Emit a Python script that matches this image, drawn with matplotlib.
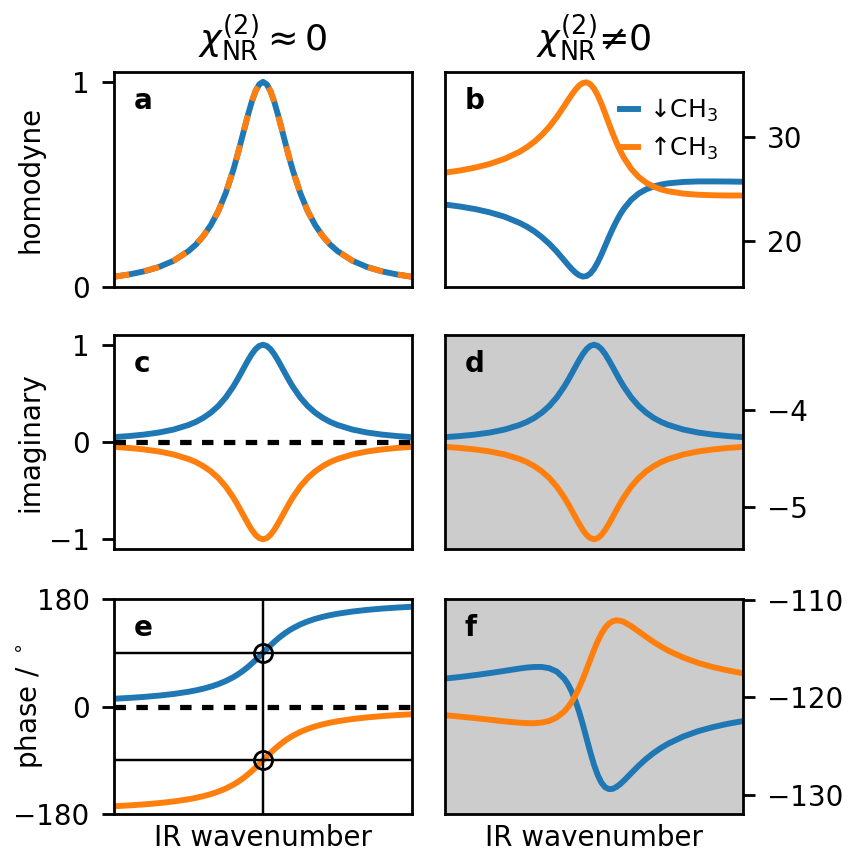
import matplotlib
matplotlib.use('Agg')
import matplotlib.pyplot as plt

# ---------------- data ----------------
wavenumber = [-1.0, -0.9, -0.8, -0.7, -0.6, -0.5, -0.45, -0.4, -0.35, -0.3, -0.25, -0.2,
              -0.175, -0.15, -0.125, -0.1, -0.075, -0.05, -0.025, 0.0,
              0.025, 0.05, 0.075, 0.1, 0.125, 0.15, 0.175,
              0.2, 0.25, 0.3, 0.35, 0.4, 0.45, 0.5, 0.6, 0.7, 0.8, 0.9, 1.0]

# (a) homodyne, chi_NR ~ 0 (both orientations identical)
homo0_down = [0.050, 0.061, 0.076, 0.097, 0.128, 0.175, 0.207, 0.249, 0.302, 0.370, 0.458, 0.569,
              0.633, 0.702, 0.772, 0.841, 0.904, 0.955, 0.988, 1.000,
              0.988, 0.955, 0.904, 0.841, 0.772, 0.702, 0.633,
              0.569, 0.458, 0.370, 0.302, 0.249, 0.207, 0.175, 0.128, 0.097, 0.076, 0.061, 0.050]
homo0_up = [0.050, 0.061, 0.076, 0.097, 0.128, 0.175, 0.207, 0.249, 0.302, 0.370, 0.458, 0.569,
            0.633, 0.702, 0.772, 0.841, 0.904, 0.955, 0.988, 1.000,
            0.988, 0.955, 0.904, 0.841, 0.772, 0.702, 0.633,
            0.569, 0.458, 0.370, 0.302, 0.249, 0.207, 0.175, 0.128, 0.097, 0.076, 0.061, 0.050]

# (b) homodyne, chi_NR != 0
homo1_down = [23.52, 23.33, 23.09, 22.77, 22.35, 21.76, 21.39, 20.94, 20.39, 19.75, 19.00, 18.16,
              17.74, 17.34, 16.99, 16.73, 16.60, 16.65, 16.89, 17.34,
              17.97, 18.72, 19.55, 20.39, 21.18, 21.91, 22.56,
              23.11, 23.98, 24.58, 24.98, 25.26, 25.44, 25.56, 25.69, 25.74, 25.74, 25.73, 25.71]
homo1_up = [26.58, 26.79, 27.06, 27.42, 27.91, 28.58, 29.03, 29.56, 30.21, 30.99, 31.92, 32.98,
            33.53, 34.06, 34.55, 34.95, 35.20, 35.26, 35.08, 34.66,
            34.01, 33.19, 32.26, 31.29, 30.36, 29.49, 28.71,
            28.02, 26.94, 26.16, 25.62, 25.24, 24.97, 24.79, 24.57, 24.46, 24.41, 24.39, 24.39]

# (c) imaginary, chi_NR ~ 0
imag0_down = [0.050, 0.061, 0.076, 0.097, 0.128, 0.175, 0.207, 0.249, 0.302, 0.370, 0.458, 0.569,
              0.633, 0.702, 0.772, 0.841, 0.904, 0.955, 0.988, 1.000,
              0.988, 0.955, 0.904, 0.841, 0.772, 0.702, 0.633,
              0.569, 0.458, 0.370, 0.302, 0.249, 0.207, 0.175, 0.128, 0.097, 0.076, 0.061, 0.050]
imag0_up = [-0.050, -0.061, -0.076, -0.097, -0.128, -0.175, -0.207, -0.249, -0.302, -0.370, -0.458, -0.569,
            -0.633, -0.702, -0.772, -0.841, -0.904, -0.955, -0.988, -1.000,
            -0.988, -0.955, -0.904, -0.841, -0.772, -0.702, -0.633,
            -0.569, -0.458, -0.370, -0.302, -0.249, -0.207, -0.175, -0.128, -0.097, -0.076, -0.061, -0.050]

# (d) imaginary, chi_NR != 0
imag1_down = [-4.280, -4.269, -4.254, -4.233, -4.202, -4.155, -4.123, -4.082, -4.028, -3.960, -3.872, -3.761,
              -3.697, -3.628, -3.558, -3.489, -3.426, -3.375, -3.342, -3.330,
              -3.342, -3.375, -3.426, -3.489, -3.558, -3.628, -3.697,
              -3.761, -3.872, -3.960, -4.028, -4.082, -4.123, -4.155, -4.202, -4.233, -4.254, -4.269, -4.280]
imag1_up = [-4.380, -4.391, -4.406, -4.427, -4.458, -4.505, -4.537, -4.579, -4.632, -4.700, -4.788, -4.899,
            -4.963, -5.032, -5.102, -5.171, -5.234, -5.285, -5.318, -5.330,
            -5.318, -5.285, -5.234, -5.171, -5.102, -5.032, -4.963,
            -4.899, -4.788, -4.700, -4.632, -4.579, -4.537, -4.505, -4.458, -4.427, -4.406, -4.391, -4.380]

# (e) phase, chi_NR ~ 0
phase0_down = [12.95, 14.34, 16.04, 18.19, 20.97, 24.70, 27.07, 29.90, 33.31, 37.48, 42.61, 48.99,
               52.74, 56.89, 61.48, 66.50, 71.94, 77.73, 83.80, 90.00,
               96.20, 102.27, 108.06, 113.50, 118.52, 123.11, 127.26,
               131.01, 137.39, 142.52, 146.69, 150.10, 152.93, 155.30, 159.03, 161.81, 163.96, 165.66, 167.05]
phase0_up = [-167.05, -165.66, -163.96, -161.81, -159.03, -155.30, -152.93, -150.10, -146.69, -142.52, -137.39, -131.01,
             -127.26, -123.11, -118.52, -113.50, -108.06, -102.27, -96.20, -90.00,
             -83.80, -77.73, -71.94, -66.50, -61.48, -56.89, -52.74,
             -48.99, -42.61, -37.48, -33.31, -29.90, -27.07, -24.70, -20.97, -18.19, -16.04, -14.34, -12.95]

# (f) phase, chi_NR != 0
phase1_down = [-118.06, -117.90, -117.71, -117.50, -117.27, -117.03, -116.93, -116.87, -116.87, -117.00, -117.34, -118.06,
               -118.63, -119.38, -120.32, -121.46, -122.77, -124.19, -125.60, -126.90,
               -127.96, -128.74, -129.21, -129.40, -129.37, -129.18, -128.89,
               -128.54, -127.76, -126.99, -126.30, -125.69, -125.17, -124.72, -124.00, -123.45, -123.03, -122.69, -122.42]
phase1_up = [-121.82, -121.96, -122.11, -122.28, -122.45, -122.59, -122.63, -122.64, -122.57, -122.40, -122.05, -121.44,
             -121.00, -120.45, -119.78, -119.00, -118.10, -117.13, -116.12, -115.13,
             -114.22, -113.45, -112.85, -112.43, -112.18, -112.09, -112.13,
             -112.25, -112.69, -113.23, -113.78, -114.31, -114.78, -115.21, -115.91, -116.46, -116.89, -117.23, -117.52]

marker_phase = [90, -90]
marker_x = [0, 0]

labels = ['\u2193CH$_3$', '\u2191CH$_3$']
panel_letters = ['a', 'b', 'c', 'd', 'e', 'f']
titles = ['$\\chi^{(2)}_\\mathrm{NR}\\approx0$', '$\\chi^{(2)}_\\mathrm{NR}$\u22600']
row_labels = ['homodyne', 'imaginary', 'phase / $^\\circ$']
xlabel = 'IR wavenumber'

# ---------------- style ----------------
plt.rcParams['font.family'] = ['DejaVu Sans']
plt.rcParams['font.size'] = 8
plt.rcParams['axes.linewidth'] = 0.8
C_DOWN = '#1f77b4'
C_UP = '#ff7f0e'
GRAY = '#cccccc'

fig = plt.figure(figsize=(3.4, 3.412), dpi=250)

lefts = [114 / 850, 445 / 850]
width = 298 / 850
rows = [(1 - 287 / 853, 215 / 853), (1 - 549 / 853, 214 / 853), (1 - 814 / 853, 215 / 853)]

axes = []
for r in range(3):
    for c in range(2):
        ax = fig.add_axes([lefts[c], rows[r][0], width, rows[r][1]])
        axes.append(ax)

ax_a, ax_b, ax_c, ax_d, ax_e, ax_f = axes

lw = 1.7
# a
ax_a.plot(wavenumber, homo0_down, color=C_DOWN, lw=lw)
ax_a.plot(wavenumber, homo0_up, color=C_UP, lw=lw, ls=(0, (2.6, 2.6)))
ax_a.set_ylim(0, 1.048)
ax_a.set_yticks([0, 1])

# b
ax_b.plot(wavenumber, homo1_down, color=C_DOWN, lw=lw, label=labels[0])
ax_b.plot(wavenumber, homo1_up, color=C_UP, lw=lw, label=labels[1])
ax_b.set_ylim(15.6, 36.25)
ax_b.set_yticks([20, 30])
ax_b.legend(loc='upper right', frameon=False, handlelength=0.7, handletextpad=0.45,
            labelspacing=0.42, borderaxespad=0.6, fontsize=7.2)

# c
ax_c.plot(wavenumber, imag0_down, color=C_DOWN, lw=lw)
ax_c.plot(wavenumber, imag0_up, color=C_UP, lw=lw)
ax_c.axhline(0, color='k', lw=1.5, ls=(0, (2.2, 2.0)))
ax_c.set_ylim(-1.1, 1.1)
ax_c.set_yticks([-1, 0, 1])

# d
ax_d.plot(wavenumber, imag1_down, color=C_DOWN, lw=lw)
ax_d.plot(wavenumber, imag1_up, color=C_UP, lw=lw)
ax_d.set_ylim(-5.43, -3.23)
ax_d.set_yticks([-5, -4])
ax_d.set_facecolor(GRAY)

# e
ax_e.plot(wavenumber, phase0_down, color=C_DOWN, lw=lw)
ax_e.plot(wavenumber, phase0_up, color=C_UP, lw=lw)
ax_e.axhline(0, color='k', lw=1.5, ls=(0, (2.2, 2.0)))
ax_e.axhline(90, color='k', lw=0.7)
ax_e.axhline(-90, color='k', lw=0.7)
ax_e.axvline(0, color='k', lw=0.7)
ax_e.plot(marker_x, marker_phase, 'o', mfc='none', mec='k', ms=5.2, mew=0.8)
ax_e.set_ylim(-180, 180)
ax_e.set_yticks([-180, 0, 180])

# f
ax_f.plot(wavenumber, phase1_down, color=C_DOWN, lw=lw)
ax_f.plot(wavenumber, phase1_up, color=C_UP, lw=lw)
ax_f.set_ylim(-131.95, -109.9)
ax_f.set_yticks([-130, -120, -110])
ax_f.set_facecolor(GRAY)

for i, ax in enumerate(axes):
    ax.set_xlim(wavenumber[0], wavenumber[-1])
    ax.set_xticks([])
    ax.text(0.065, 0.93, panel_letters[i], transform=ax.transAxes, ha='left', va='top',
            fontweight='bold', fontsize=8)
    if i % 2 == 1:
        ax.yaxis.tick_right()

for r, ax in enumerate([ax_a, ax_c, ax_e]):
    ax.set_ylabel(row_labels[r])
    ax.yaxis.set_label_coords(-0.232, 0.5)

ax_a.set_title(titles[0], fontsize=10.5)
ax_b.set_title(titles[1], fontsize=10.5)
ax_e.set_xlabel(xlabel, labelpad=3)
ax_f.set_xlabel(xlabel, labelpad=3)

fig.savefig('out.png', dpi=250)
